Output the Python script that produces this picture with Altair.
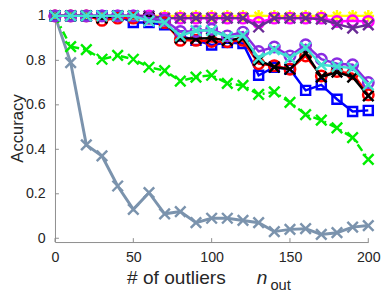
import altair as alt
import pandas as pd

n_out = list(range(0, 201, 10))

gray_acc = [1.0, 0.79, 0.42, 0.37, 0.235, 0.13, 0.205, 0.11, 0.12, 0.07, 0.09,
            0.09, 0.08, 0.07, 0.03, 0.04, 0.043, 0.017, 0.025, 0.05, 0.057]
green_acc = [1.0, 0.862, 0.848, 0.805, 0.822, 0.805, 0.769, 0.754, 0.707, 0.725, 0.733,
             0.697, 0.687, 0.647, 0.658, 0.611, 0.556, 0.531, 0.496, 0.453, 0.355]
yellow_acc = [1.0] * 21
magenta_acc = [1.0, 1.0, 1.0, 1.0, 1.0, 1.0, 1.0, 0.99, 0.99, 0.99, 0.99,
               0.99, 0.99, 0.97, 0.99, 0.99, 0.99, 0.99, 0.975, 0.978, 0.975]
purple_acc = [1.0, 1.0, 1.0, 1.0, 1.0, 1.0, 1.0, 0.99, 0.99, 0.99, 0.99,
              0.99, 0.99, 0.95, 0.99, 0.99, 0.99, 0.985, 0.963, 0.945, 0.96]
blue_acc = [1.0, 1.0, 1.0, 1.0, 1.0, 0.97, 0.97, 0.96, 0.91, 0.89, 0.869,
            0.88, 0.876, 0.733, 0.769, 0.76, 0.665, 0.69, 0.625, 0.57, 0.575]
red_acc = [1.0, 1.0, 1.0, 0.98, 0.99, 0.99, 0.99, 0.97, 0.89, 0.89, 0.885,
           0.884, 0.89, 0.785, 0.776, 0.76, 0.82, 0.73, 0.75, 0.74, 0.645]
black_acc = [1.0, 1.0, 1.0, 0.99, 1.0, 1.0, 0.99, 0.97, 0.90, 0.898, 0.90,
             0.89, 0.90, 0.80, 0.77, 0.76, 0.833, 0.725, 0.747, 0.725, 0.64]
violet_acc = [1.0, 1.0, 1.0, 1.0, 1.0, 1.0, 0.99, 0.98, 0.93, 0.93, 0.94,
              0.91, 0.927, 0.84, 0.86, 0.82, 0.87, 0.805, 0.785, 0.78, 0.70]
cyan_acc = [1.0, 1.0, 1.0, 1.0, 1.0, 1.0, 0.977, 0.97, 0.91, 0.934, 0.934,
            0.905, 0.912, 0.81, 0.848, 0.81, 0.857, 0.78, 0.772, 0.765, 0.69]

x_ticks = [0, 50, 100, 150, 200]
y_ticks = [0, 0.2, 0.4, 0.6, 0.8, 1.0]

X_PATH = "M-1,-1L1,1M-1,1L1,-1"
STAR_PATH = "M0,-1L0,1M-1,0L1,0M-0.7,-0.7L0.7,0.7M-0.7,0.7L0.7,-0.7"

# (values, colour, marker, marker size, line width, dash)
series = [
    (gray_acc, "#7b93ad", X_PATH, 115, 3, None),
    (green_acc, "#00ee00", X_PATH, 115, 2.5, [8, 4, 2, 4]),
    (yellow_acc, "#ffff00", STAR_PATH, 140, 2.5, None),
    (magenta_acc, "#ff00ff", "circle", 115, 2.5, None),
    (purple_acc, "#6a2a96", X_PATH, 115, 2.5, None),
    (blue_acc, "#0000ff", "square", 85, 2.5, None),
    (red_acc, "#ff0000", "circle", 115, 2.5, None),
    (black_acc, "#000000", X_PATH, 115, 2.5, None),
    (violet_acc, "#8a2be2", "circle", 115, 2.5, None),
    (cyan_acc, "#40e0d0", X_PATH, 115, 2.5, None),
]

W, H = 320, 231
AX = "#8c8c8c"
TXT = "#262626"

xs = alt.Scale(domain=[0, 200], nice=False, zero=False)
ys = alt.Scale(domain=[-0.017, 1.0], nice=False, zero=False)
x_axis = alt.Axis(values=x_ticks, title=None, labelPadding=9, labelFlush=False)
y_axis = alt.Axis(values=y_ticks, format=".1~f", title=None, labelPadding=10,
                  labelFlush=False)

layers = []

# inward tick marks
ytick_df = pd.DataFrame({"v": y_ticks})
layers.append(alt.Chart(ytick_df).mark_rule(color=AX, strokeWidth=1).encode(
    y=alt.Y("v:Q", scale=ys, axis=y_axis), x=alt.value(0), x2=alt.value(4)))
xtick_df = pd.DataFrame({"v": x_ticks})
layers.append(alt.Chart(xtick_df).mark_rule(color=AX, strokeWidth=1).encode(
    x=alt.X("v:Q", scale=xs, axis=x_axis), y=alt.value(H - 4), y2=alt.value(H)))

for vals, col, shape, size, lw, dash in series:
    df = pd.DataFrame({"n": n_out, "acc": vals})
    base = alt.Chart(df).encode(
        x=alt.X("n:Q", scale=xs, axis=x_axis),
        y=alt.Y("acc:Q", scale=ys, axis=y_axis),
    )
    line_kw = dict(color=col, strokeWidth=lw, clip=False)
    if dash:
        line_kw["strokeDash"] = dash
    layers.append(base.mark_line(**line_kw))
    layers.append(base.mark_point(shape=shape, filled=False, color=col, size=size,
                                  strokeWidth=2.5, opacity=1, clip=False))

ytitle = alt.Chart(pd.DataFrame({"t": ["Accuracy"]})).mark_text(
    font="Liberation Sans", fontSize=17, color=TXT, align="center",
    baseline="alphabetic", angle=270
).encode(x=alt.value(-33), y=alt.value(115), text="t:N")
title_main = alt.Chart(pd.DataFrame({"t": ["# of outliers"]})).mark_text(
    font="Liberation Sans", fontSize=19.5, color=TXT, align="center", baseline="alphabetic"
).encode(x=alt.value(124), y=alt.value(274), text="t:N")
title_n = alt.Chart(pd.DataFrame({"t": ["n"]})).mark_text(
    font="Liberation Sans", fontSize=19.5, fontStyle="italic", color=TXT,
    align="left", baseline="alphabetic"
).encode(x=alt.value(206), y=alt.value(274), text="t:N")
title_out = alt.Chart(pd.DataFrame({"t": ["out"]})).mark_text(
    font="Liberation Sans", fontSize=15, color=TXT, align="left", baseline="alphabetic"
).encode(x=alt.value(220), y=alt.value(280), text="t:N")

chart = alt.layer(*layers, ytitle, title_main, title_n, title_out).properties(
    width=W, height=H,
    autosize=alt.AutoSizeParams(type="none"),
    padding={"left": 48, "top": 5, "right": 14, "bottom": 49},
).configure_view(stroke=None).configure_axis(
    grid=False, domainColor=AX, domainWidth=1, ticks=False,
    labelColor=TXT, labelFont="Liberation Sans", labelFontSize=14.5,
)

chart.save("out.html", embed_options={"renderer": "svg", "actions": False})
